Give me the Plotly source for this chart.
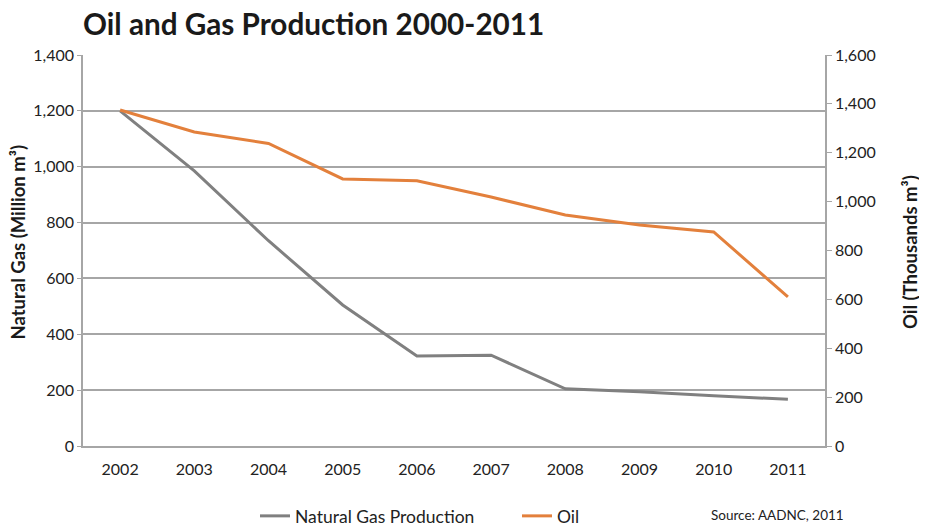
import plotly.graph_objects as go

years = ["2002", "2003", "2004", "2005", "2006", "2007", "2008", "2009", "2010", "2011"]
gas = [1200, 985, 735, 505, 322, 325, 205, 194, 180, 167]
oil = [1375, 1285, 1238, 1093, 1085, 1019, 945, 904, 876, 610]

FONT = "Lato"
GRAY = "#808080"
ORANGE = "#E3803C"
GRID = "#A6A6A6"

# page body has an 8px margin; figure is sized/offset so the drawing lands at the reference positions
W, H = 919, 519
L, R, T, B = 75, 102, 47, 81

fig = go.Figure()
fig.add_trace(go.Scatter(x=years, y=gas, name="Natural Gas Production", mode="lines",
                         line=dict(color=GRAY, width=3), yaxis="y"))
fig.add_trace(go.Scatter(x=years, y=oil, name="Oil", mode="lines",
                         line=dict(color=ORANGE, width=3), yaxis="y2"))

fig.update_layout(
    width=W, height=H,
    margin=dict(l=L, r=R, t=T, b=B, autoexpand=False),
    paper_bgcolor="white", plot_bgcolor="white",
    font=dict(family=FONT, size=16, color="#222222"),
    title=dict(text="<b>Oil and Gas Production 2000-2011</b>", x=L / W, xanchor="left",
               y=1 - 17 / H, yanchor="middle", font=dict(family=FONT, size=29.7, color="#1a1a1a")),
    xaxis=dict(type="category", range=[-0.5, 9.5], showgrid=False, showline=True,
               linecolor=GRID, linewidth=1.5, ticks="", tickfont=dict(size=16), automargin=False,
               ticklabelstandoff=8),
    yaxis=dict(range=[0, 1400], dtick=200, tickformat=",d", showgrid=True, gridcolor=GRID,
               gridwidth=1.5, showline=True, linecolor=GRID, linewidth=1.5, ticks="outside",
               ticklen=4, tickcolor=GRID, zeroline=False, automargin=False,
               tickfont=dict(size=16)),
    yaxis2=dict(range=[0, 1600], dtick=200, tickformat=",d", overlaying="y", side="right",
                showgrid=False, showline=True, linecolor=GRID, linewidth=1.5, ticks="outside",
                ticklen=5, tickcolor=GRID, zeroline=False, automargin=False,
                tickfont=dict(size=16)),
    legend=dict(orientation="h", x=0.5849, xanchor="center", y=-0.179, yanchor="middle",
                font=dict(size=17.5), traceorder="normal", entrywidth=217),
    showlegend=True,
)
fig.add_annotation(text="<b>Natural Gas (Million m³)</b>", xref="paper", yref="paper",
                   x=-0.088, xanchor="center", y=0.522, yanchor="middle", textangle=-90,
                   showarrow=False, font=dict(size=18.5, family=FONT, color="#1a1a1a"))
fig.add_annotation(text="<b>Oil (Thousands m³)</b>", xref="paper", yref="paper",
                   x=1.1146, xanchor="center", y=0.496, yanchor="middle", textangle=-90,
                   showarrow=False, font=dict(size=18.5, family=FONT, color="#1a1a1a"))
fig.add_annotation(text="Source: AADNC, 2011", xref="paper", yref="paper",
                   x=1.028, xanchor="right", y=-0.1765, yanchor="middle", showarrow=False,
                   font=dict(size=13.5, family=FONT, color="#222222"))

fig.write_html("out.html")
